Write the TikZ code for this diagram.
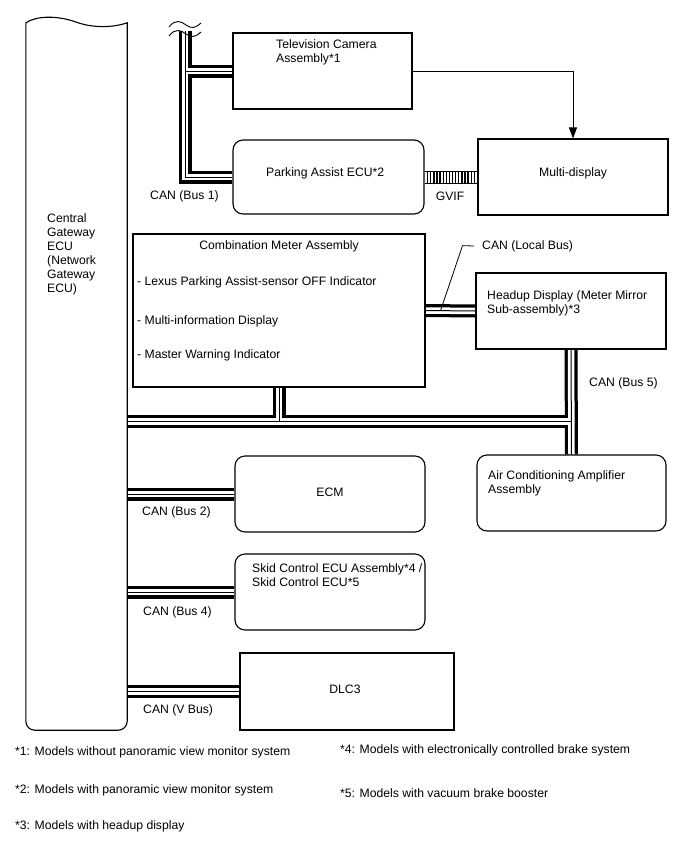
\documentclass[tikz,border=0pt]{standalone}
\usepackage{fontspec}
\setmainfont{Liberation Sans}
\usetikzlibrary{arrows.meta, calc, backgrounds}
\tikzset{unit/.style = {shape = rectangle, draw, line width = 1.1pt, inner sep = 0pt}}
\tikzset{ecu/.style = {unit, rounded corners = 10pt}}
\tikzset{caption/.style = {inner sep = 0pt, align = left}}
\tikzset{signal/.style = {line width = 1pt, -{Triangle[length = 11pt, width = 8pt]}}}

\begin{document}
\begin{tikzpicture}[x = 1pt, y = -1pt, font = \fontsize{12.2}{14}\selectfont]
	\useasboundingbox (0, 0) rectangle (688, 852);

	\node[inner sep = 0pt, minimum width = 101pt, minimum height = 707pt] (gw) at (76.5, 376.5) {};
	\node[caption, anchor = west] (gwtext) at (47, 254.5) {Central\\Gateway\\ECU\\(Network\\Gateway\\ECU)};

	\node[unit, minimum width = 179pt, minimum height = 76pt] (tv) at (322.5, 71) {};
	\node[caption, anchor = west] (tvtext) at (276, 52) {Television Camera\\Assembly*1};
	\node[ecu, minimum width = 191pt, minimum height = 74pt] (pa) at (328.5, 177) {};
	\node[caption, anchor = west] (patext) at (266, 173) {Parking Assist ECU*2};
	\node[unit, minimum width = 190pt, minimum height = 76pt] (md) at (573, 177) {};
	\node[caption] (mdtext) at (573, 173) {Multi-display};

	\node[unit, minimum width = 292pt, minimum height = 153pt] (meter) at (279, 310.5) {};
	\node[caption] (metertitle) at (279, 246) {Combination Meter Assembly};
	\node[caption, anchor = west] (meteritema) at (137, 282) {- Lexus Parking Assist-sensor OFF Indicator};
	\node[caption, anchor = west] (meteritemb) at (137, 321) {- Multi-information Display};
	\node[caption, anchor = west] (meteritemc) at (137, 355) {- Master Warning Indicator};
	\node[unit, minimum width = 190pt, minimum height = 76pt] (hud) at (571, 311) {};
	\node[caption, anchor = west] (hudtext) at (487, 303) {Headup Display (Meter Mirror\\Sub-assembly)*3};

	\node[ecu, minimum width = 189pt, minimum height = 76pt] (ac) at (571.5, 493) {};
	\node[caption, anchor = west] (actext) at (488, 483) {Air Conditioning Amplifier\\Assembly};
	\node[ecu, minimum width = 190pt, minimum height = 76pt] (ecm) at (330, 494) {};
	\node[caption] (ecmtext) at (330, 492) {ECM};
	\node[ecu, minimum width = 190pt, minimum height = 76pt] (skid) at (330, 592) {};
	\node[caption, anchor = west] (skidtext) at (252, 575) {Skid Control ECU Assembly*4 /\\Skid Control ECU*5};
	\node[unit, minimum width = 214pt, minimum height = 77pt] (dlc) at (347, 691.5) {};
	\node[caption] (dlctext) at (345, 689) {DLC3};

	% gateway outline, broken off at the top
	\draw[line width = 1.1pt] (gw.north west) .. controls (36, 16) and (56, 15) .. (76, 22) .. controls (92, 28) and (112, 28) .. (gw.north east)
		-- ([yshift = 9pt]gw.south east) arc[start angle = 0, end angle = -90, radius = 9pt]
		-- ([xshift = 9pt]gw.south west) arc[start angle = -90, end angle = -180, radius = 9pt] -- cycle;

	\coordinate (brk) at (185, 31);
	\coordinate (mj) at ($(meter.south) + (0, 34)$);
	\coordinate (lbtap) at ($(meter.east)!0.3!(hud.west)$);

	% CAN lines: outline, gap, middle wire
	\begin{scope}[on background layer]
		\foreach \w/\c in {13pt/black, 6.5pt/white, 1pt/black} {
			\draw[line width = \w, color = \c] (brk) |- (pa.west);
			\draw[line width = \w, color = \c] (brk |- tv.west) -- (tv.west);
			\draw[line width = \w, color = \c] (meter.east) -- (hud.west);
			\draw[line width = \w, color = \c] (hud.south) -- (ac.north);
			\draw[line width = \w, color = \c] (gw.east |- mj) -- (hud.south |- mj);
			\draw[line width = \w, color = \c] (meter.south) -- (mj);
			\draw[line width = \w, color = \c] (gw.east |- ecm.west) -- (ecm.west);
			\draw[line width = \w, color = \c] (gw.east |- skid.west) -- (skid.west);
			\draw[line width = \w, color = \c] (gw.east |- dlc.west) -- (dlc.west);
		}
	\end{scope}

	\draw[line width = 0.9pt] (169, 27) .. controls (175, 19) and (181, 21) .. (186, 25) .. controls (191, 29) and (196, 28) .. (201, 23);
	\draw[line width = 0.9pt] (169, 36) .. controls (175, 28) and (181, 30) .. (186, 34) .. controls (191, 38) and (196, 37) .. (201, 32);

	\draw[signal] (tv.east) -| (md.north);

	\draw[line width = 0.8pt] ($(pa.east) + (0, -6)$) -- ($(md.west) + (0, -6)$) ($(pa.east) + (0, 6)$) -- ($(md.west) + (0, 6)$);
	\foreach \i in {1, ..., 16}
		\draw[line width = 1.3pt] ($(pa.east)!\i/17!(md.west) + (0, -6)$) -- ++(0, 12);

	\node[caption, anchor = west] (bus1) at (150, 196) {CAN (Bus 1)};
	\node[caption] (gviflabel) at (450, 196) {GVIF};
	\node[caption, anchor = west] (lbus) at (482, 246) {CAN (Local Bus)};
	\draw[line width = 0.8pt] (lbtap) -- ++(22, -65) -- ([xshift = -8pt]lbus.west);
	\node[caption, anchor = west] (bus5) at (589, 383) {CAN (Bus 5)};
	\node[caption, anchor = west] (bus2) at (142, 512) {CAN (Bus 2)};
	\node[caption, anchor = west] (bus4) at (143, 612) {CAN (Bus 4)};
	\node[caption, anchor = west] (vbus) at (143, 710) {CAN (V Bus)};

	\node[caption, anchor = west] (notea) at (15, 752) {*1: Models without panoramic view monitor system};
	\node[caption, anchor = west] (noteb) at (15, 790) {*2: Models with panoramic view monitor system};
	\node[caption, anchor = west] (notec) at (15, 826) {*3: Models with headup display};
	\node[caption, anchor = west] (noted) at (340, 750) {*4: Models with electronically controlled brake system};
	\node[caption, anchor = west] (notee) at (340, 793) {*5: Models with vacuum brake booster};
\end{tikzpicture}
\end{document}
